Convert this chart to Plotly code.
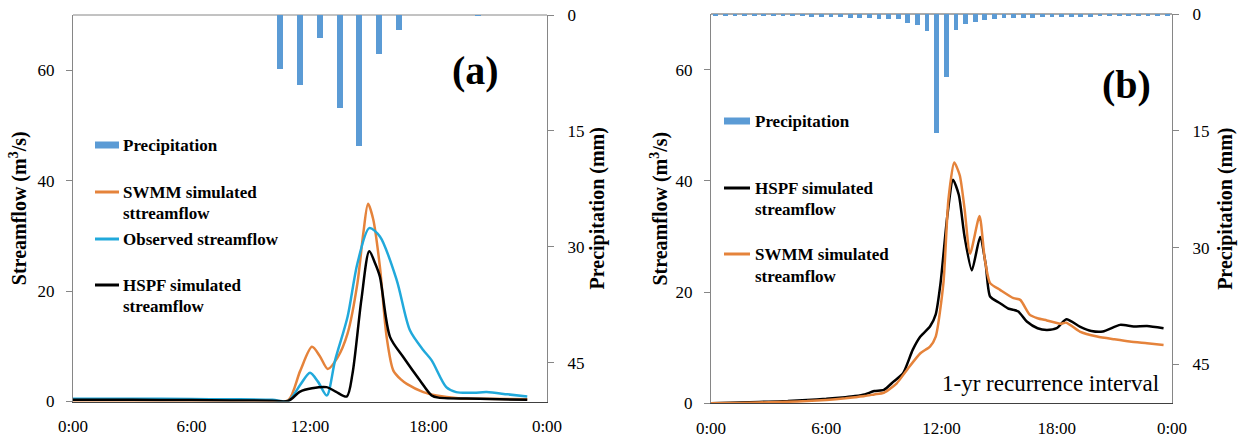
import plotly.graph_objects as go

# ---------------- data ----------------
tick_hours = [0, 6, 12, 18, 24]
tick_text = ["0:00", "6:00", "12:00", "18:00", "0:00"]

# Panel (a)
a_precip_hour = [10.5, 11.5, 12.5, 13.5, 14.5, 15.5, 16.5, 20.5]
a_precip_mm = [7.0, 9.0, 3.0, 12.0, 17.0, 5.0, 2.0, 0.1]

a_swmm_hour = [0, 3, 6, 8, 10, 10.9, 11.5, 12.1, 12.5, 12.9, 13.4, 13.9, 14.4, 14.7, 14.94, 15.2, 15.54,
               15.88, 16.22, 16.6, 16.9, 17.74, 18.4, 19.5, 20.6, 23.0]
a_swmm_flow = [0.1, 0.1, 0.1, 0.1, 0.1, 0.2, 5.5, 9.9, 8.2, 5.9, 8.0, 12.3, 21.4, 30.5, 35.8, 33.0, 24.4,
               11.7, 5.6, 4.0, 3.2, 1.7, 1.1, 0.6, 0.5, 0.4]

a_obs_hour = [0, 3, 6, 8, 10.1, 10.9, 11.5, 12.0, 12.4, 12.85, 13.27, 13.9, 14.4, 15.0, 15.54, 16.39, 17.06,
              17.74, 18.16, 18.9, 19.4, 20.3, 20.95, 22.0, 23.0]
a_obs_flow = [0.5, 0.5, 0.45, 0.4, 0.3, 0.1, 3.0, 5.2, 3.6, 1.1, 7.45, 15.3, 25.0, 31.4, 29.9, 22.0, 12.9,
              9.3, 7.45, 2.6, 1.7, 1.6, 1.7, 1.3, 0.9]

a_hspf_hour = [0, 3, 6, 8, 10, 10.9, 11.5, 12.1, 12.84, 13.3, 13.86, 14.15, 14.6, 15.0, 15.3, 15.54, 16.05,
               16.72, 17.57, 18.16, 18.5, 20.6, 23.0]
a_hspf_flow = [0.3, 0.3, 0.25, 0.2, 0.15, 0.1, 1.8, 2.4, 2.6, 1.8, 0.9, 5.0, 18.4, 27.2, 25.0, 22.6, 11.7,
               8.05, 3.8, 1.1, 0.7, 0.5, 0.3]

# Panel (b)
b_precip_hour = [0.25 + 0.5 * i for i in range(48)]
b_precip_mm = [0.3, 0.3, 0.3, 0.3, 0.3, 0.3, 0.3, 0.3, 0.3, 0.3,
               0.35, 0.35, 0.4, 0.4, 0.45, 0.45, 0.5, 0.6, 0.6, 0.7,
               1.1, 1.4, 2.2, 15.3, 8.1, 2.0, 1.3, 1.0, 0.8, 0.7,
               0.5, 0.5, 0.45, 0.45, 0.4, 0.4, 0.4, 0.35, 0.35, 0.35,
               0.3, 0.3, 0.3, 0.3, 0.3, 0.3, 0.3, 0.3]

b_hspf_hour = [0, 1, 2, 3, 4, 5, 6, 7, 7.5, 8, 8.5, 9, 9.5, 10, 10.5, 10.9, 11.4, 11.7, 11.95, 12.3, 12.6,
               12.9, 13.2, 13.58, 14.01, 14.3, 14.53, 15.05, 15.5, 15.75, 16.0, 16.44, 17.0, 17.48, 18.0,
               18.5, 19.2, 19.8, 20.4, 21.3, 22.0, 22.7, 23.56]
b_hspf_flow = [0, 0.1, 0.2, 0.3, 0.4, 0.6, 0.8, 1.1, 1.3, 1.6, 2.2, 2.4, 3.9, 5.4, 9.6, 12.0, 13.8, 16.0,
               21.6, 33.6, 40.2, 37.5, 30.0, 23.9, 29.9, 25.0, 19.2, 18.0, 17.0, 16.8, 16.5, 14.7, 13.5,
               13.2, 13.5, 15.1, 13.8, 13.0, 12.9, 14.1, 13.8, 13.9, 13.5]

b_swmm_hour = [0, 1, 2, 3, 4, 5, 6, 7, 7.5, 8, 8.5, 9, 9.67, 10.2, 10.9, 11.4, 11.7, 12.1, 12.36, 12.66,
               12.95, 13.2, 13.49, 13.98, 14.25, 14.53, 15.05, 15.75, 16.1, 16.6, 17.0, 17.48, 18.18, 18.5,
               19.2, 20.1, 21.0, 21.8, 22.7, 23.56]
b_swmm_flow = [0, 0.05, 0.1, 0.2, 0.3, 0.4, 0.6, 0.9, 1.1, 1.3, 1.6, 1.9, 3.6, 6.0, 9.0, 10.2, 12.0, 21.6,
               36.6, 43.3, 41.0, 35.0, 26.9, 33.7, 26.0, 21.6, 20.4, 18.9, 18.6, 15.9, 15.3, 14.9, 14.3,
               14.5, 12.9, 12.0, 11.5, 11.1, 10.8, 10.5]

# ---------------- style ----------------
W, H = 1244, 439
FONT = "Liberation Serif, Times New Roman, serif"
BAR = "#5B9BD5"
ORANGE = "#E5833B"
LBLUE = "#21A9DB"
BLACK = "#000000"
AXC = "#868686"


def px(x):
    return x / W


def py(y):
    return 1 - y / H


fig = go.Figure()

# Panel (a)
fig.add_trace(go.Bar(x=a_precip_hour, y=a_precip_mm, xaxis="x", yaxis="y2", width=0.3,
                     marker=dict(color=BAR, line=dict(width=0)), showlegend=False))
fig.add_trace(go.Scatter(x=a_swmm_hour, y=a_swmm_flow, xaxis="x", yaxis="y", mode="lines",
                         line=dict(color=ORANGE, width=2.5, shape="spline", smoothing=0.8), showlegend=False))
fig.add_trace(go.Scatter(x=a_obs_hour, y=a_obs_flow, xaxis="x", yaxis="y", mode="lines",
                         line=dict(color=LBLUE, width=2.5, shape="spline", smoothing=0.8), showlegend=False))
fig.add_trace(go.Scatter(x=a_hspf_hour, y=a_hspf_flow, xaxis="x", yaxis="y", mode="lines",
                         line=dict(color=BLACK, width=2.5, shape="spline", smoothing=0.8), showlegend=False))

# Panel (b)
fig.add_trace(go.Bar(x=b_precip_hour, y=b_precip_mm, xaxis="x2", yaxis="y4", width=0.25,
                     marker=dict(color=BAR, line=dict(width=0)), showlegend=False))
fig.add_trace(go.Scatter(x=b_hspf_hour, y=b_hspf_flow, xaxis="x2", yaxis="y3", mode="lines",
                         line=dict(color=BLACK, width=2.5, shape="spline", smoothing=0.6), showlegend=False))
fig.add_trace(go.Scatter(x=b_swmm_hour, y=b_swmm_flow, xaxis="x2", yaxis="y3", mode="lines",
                         line=dict(color=ORANGE, width=2.5, shape="spline", smoothing=0.6), showlegend=False))

tickfont = dict(family=FONT, size=17, color="black")
titlefont = dict(family=FONT, size=20, color="black", weight="bold")

xa_common = dict(range=[0, 24], tickvals=tick_hours, ticktext=tick_text, showgrid=False, zeroline=False,
                 showline=True, linecolor="#404040", linewidth=1, ticks="", tickfont=tickfont,
                 ticklabelstandoff=9, automargin=False)
yl_common = dict(range=[0, 70], tickvals=[0, 20, 40, 60], showgrid=False, zeroline=False, showline=True,
                 linecolor=AXC, linewidth=1, ticks="outside", ticklen=6, tickcolor=AXC, tickfont=tickfont,
                 ticklabelstandoff=8, automargin=False)
yr_common = dict(range=[50, 0], tickvals=[0, 15, 30, 45], showgrid=False, zeroline=False, showline=True,
                 linecolor=AXC, linewidth=1, ticks="outside", ticklen=6, tickcolor=AXC, tickfont=tickfont,
                 ticklabelstandoff=10, side="right", automargin=False)

dom_a_x = [px(73), px(547)]
dom_a_y = [py(401.5), py(15)]
dom_b_x = [px(711), px(1172)]
dom_b_y = [py(403.3), py(14)]

fig.update_layout(
    width=W, height=H,
    margin=dict(l=0, r=0, t=0, b=0, autoexpand=False),
    paper_bgcolor="white", plot_bgcolor="white",
    bargap=0,
    xaxis=dict(domain=dom_a_x, anchor="y", **xa_common),
    yaxis=dict(domain=dom_a_y, anchor="x",
               title=dict(text="Streamflow (m<sup>3</sup>/s)", font=titlefont, standoff=5), **yl_common),
    yaxis2=dict(domain=dom_a_y, anchor="x", overlaying="y",
                title=dict(text="Precipitation (mm)", font=titlefont, standoff=6), **yr_common),
    xaxis2=dict(domain=dom_b_x, anchor="y3", **xa_common),
    yaxis3=dict(domain=dom_b_y, anchor="x2",
                title=dict(text="Streamflow (m<sup>3</sup>/s)", font=titlefont, standoff=2), **yl_common),
    yaxis4=dict(domain=dom_b_y, anchor="x2", overlaying="y3",
                title=dict(text="Precipitation (mm)", font=titlefont, standoff=9), **yr_common),
)

shapes = []
# top frame lines
shapes.append(dict(type="line", xref="paper", yref="paper", x0=dom_a_x[0], x1=dom_a_x[1],
                   y0=dom_a_y[1], y1=dom_a_y[1], line=dict(color=AXC, width=1), layer="below"))
shapes.append(dict(type="line", xref="paper", yref="paper", x0=dom_b_x[0], x1=dom_b_x[1],
                   y0=dom_b_y[1], y1=dom_b_y[1], line=dict(color="#555555", width=1), layer="below"))

annotations = []


def txt(x, y, s, size=17, bold=True, xanchor="left", color="black"):
    annotations.append(dict(x=px(x), y=py(y), xref="paper", yref="paper", text=("<b>%s</b>" % s) if bold else s,
                            showarrow=False, xanchor=xanchor, yanchor="middle",
                            font=dict(family=FONT, size=size, color=color)))


def key_line(x0, x1, y, color):
    shapes.append(dict(type="line", xref="paper", yref="paper", x0=px(x0), x1=px(x1), y0=py(y), y1=py(y),
                       line=dict(color=color, width=3)))


def key_rect(x0, x1, y0, y1):
    shapes.append(dict(type="rect", xref="paper", yref="paper", x0=px(x0), x1=px(x1), y0=py(y1), y1=py(y0),
                       fillcolor=BAR, line=dict(width=0)))


# legend (a)
key_rect(95, 119, 141.5, 148.5)
txt(121, 145, "Precipitation")
key_line(95, 119, 192, ORANGE)
txt(121, 192, "SWMM simulated")
txt(121, 213, "sttreamflow")
key_line(95, 119, 239, LBLUE)
txt(121, 239, "Observed streamflow")
key_line(95, 119, 285, BLACK)
txt(121, 285, "HSPF simulated")
txt(121, 306, "streamflow")

# legend (b)
key_rect(724, 750, 117.5, 124.5)
txt(753, 121, "Precipitation")
key_line(724, 750, 188, BLACK)
txt(753, 188, "HSPF simulated")
txt(753, 209, "streamflow")
key_line(724, 750, 254, ORANGE)
txt(753, 254, "SWMM simulated")
txt(753, 276, "streamflow")

# panel labels
txt(475, 70, "(a)", size=40, xanchor="center")
txt(1126, 84, "(b)", size=40, xanchor="center")
txt(940, 383, "1-yr recurrence interval", size=23, bold=False)

fig.update_layout(shapes=shapes, annotations=annotations)

fig.write_html("out.html")
